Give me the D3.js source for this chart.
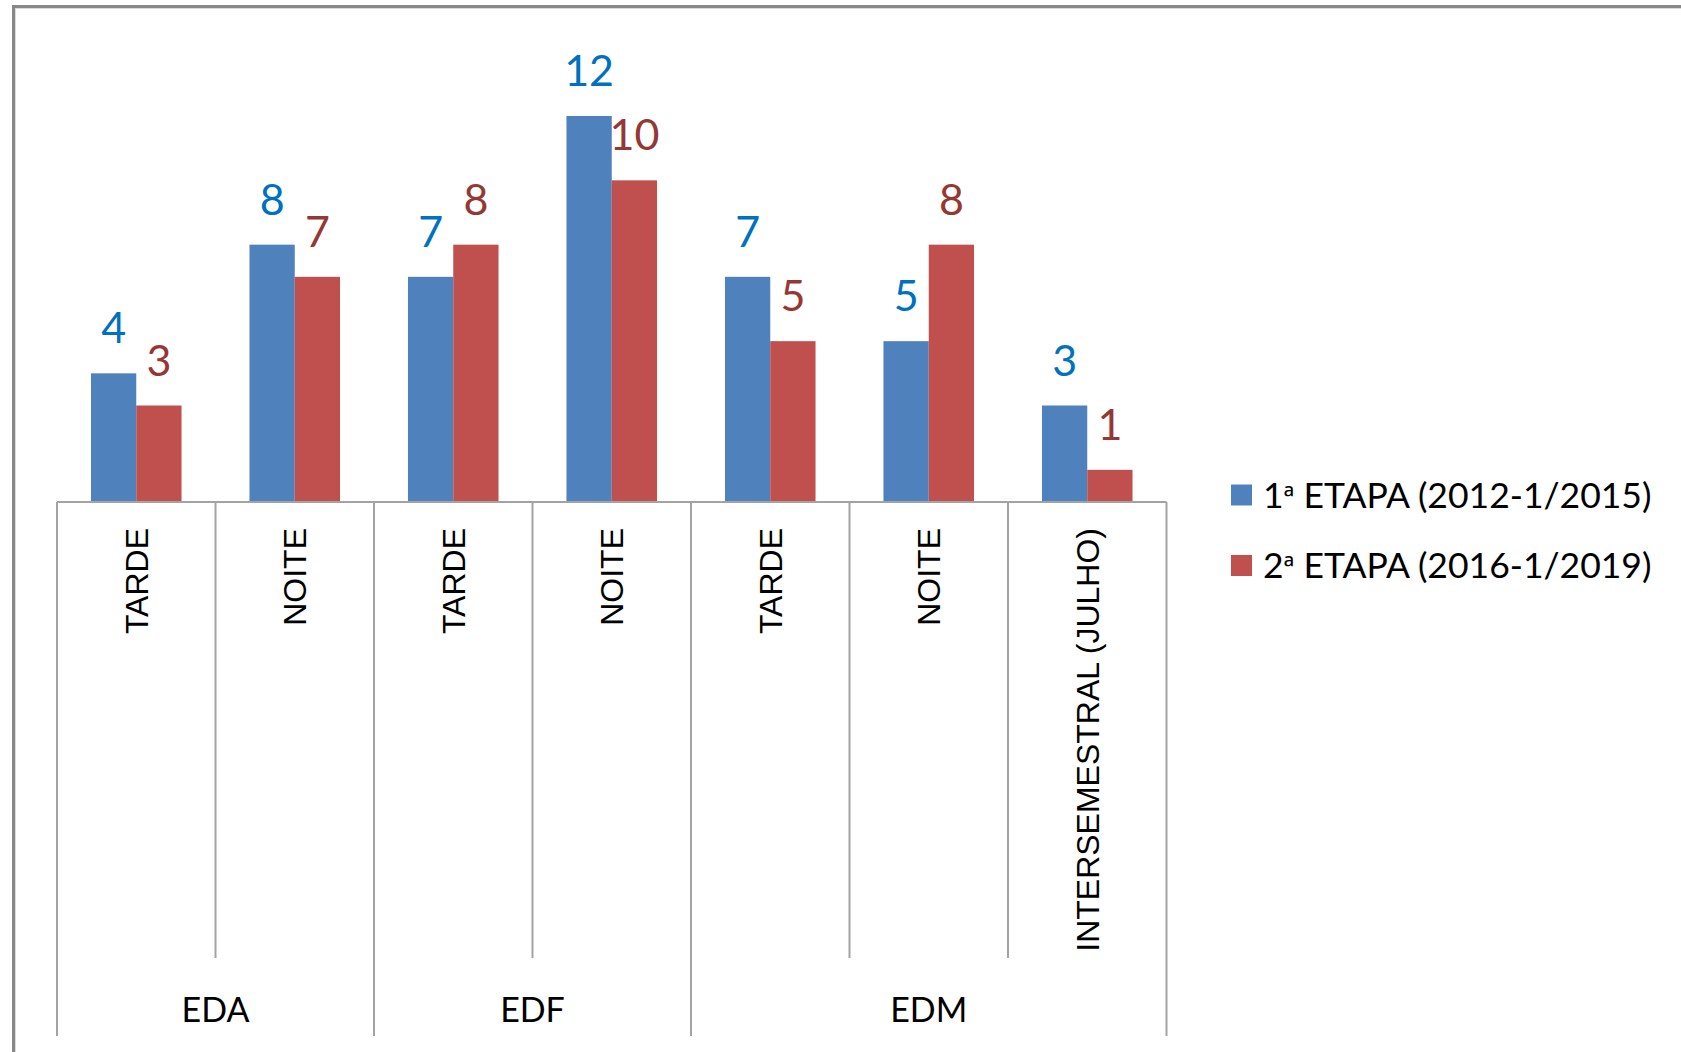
<!DOCTYPE html>
<html>
<head>
<meta charset="utf-8">
<script src="https://cdn.jsdelivr.net/npm/d3@7"></script>
<style>
  html, body { margin: 0; padding: 0; background: #ffffff; overflow: hidden; }
  svg { display: block; }
</style>
</head>
<body>
<svg id="chart" width="1681" height="1052"></svg>
<script>
// ---- data ----
const categories = ["TARDE", "NOITE", "TARDE", "NOITE", "TARDE", "NOITE", "INTERSEMESTRAL (JULHO)"];
const groupLabels = ["EDA", "EDF", "EDM"];
const groupSizes = [2, 2, 3];
const seriesNames = ["1ª ETAPA (2012-1/2015)", "2ª ETAPA (2016-1/2019)"];
const etapa1 = [4, 8, 7, 12, 7, 5, 3];
const etapa2 = [3, 7, 8, 10, 5, 8, 1];

// ---- styles ----
const barColors = ["#4F81BD", "#C0504D"];
const labelColors = ["#0070C0", "#953735"];
const lineColor = "#a3a3a3";
const numFont = "Lato, 'Open Sans', 'Noto Sans', sans-serif";
const catFont = "'Liberation Sans', Arial, sans-serif";

const svg = d3.select("#chart");

// outer chart border (right/bottom edges lie outside the picture)
svg.append("rect")
  .attr("x", 13.5).attr("y", 6.5).attr("width", 1800).attr("height", 1200)
  .attr("fill", "none").attr("stroke", "#878787").attr("stroke-width", 3);
svg.append("rect")
  .attr("x", 15.5).attr("y", 8.5).attr("width", 1800).attr("height", 1200)
  .attr("fill", "none").attr("stroke", "#dcdcdc").attr("stroke-width", 1);

// ---- scales ----
const plotLeft = 57, plotRight = 1166.5, baseY = 502, topY = 116;
const x0 = d3.scaleBand().domain(d3.range(categories.length)).range([plotLeft, plotRight]).paddingInner(0).paddingOuter(0);
const bw = x0.bandwidth();
const x1 = d3.scaleBand().domain([0, 1]).range([bw * 0.75 / 3.5, bw * 2.75 / 3.5]).padding(0);
const y = d3.scaleLinear().domain([0, 12]).range([baseY, topY]);

const seriesValues = [etapa1, etapa2];

// ---- bars ----
const gCat = svg.append("g").selectAll("g")
  .data(categories.map((c, i) => i))
  .join("g")
  .attr("transform", i => `translate(${x0(i)},0)`);

gCat.selectAll("rect")
  .data(i => seriesValues.map((vals, s) => ({ s, v: vals[i] })))
  .join("rect")
  .attr("x", d => x1(d.s))
  .attr("width", x1.bandwidth())
  .attr("y", d => y(d.v))
  .attr("height", d => y(0) - y(d.v))
  .attr("fill", d => barColors[d.s]);

// value labels
gCat.selectAll("text.val")
  .data(i => seriesValues.map((vals, s) => ({ s, v: vals[i] })))
  .join("text")
  .attr("class", "val")
  .attr("x", d => x1(d.s) + x1.bandwidth() / 2)
  .attr("y", d => y(d.v) - 30)
  .attr("text-anchor", "middle")
  .attr("font-family", numFont)
  .attr("font-size", 43)
  .attr("fill", d => labelColors[d.s])
  .text(d => d.v);

// ---- category axis (multi-level) ----
const axisG = svg.append("g");
axisG.append("line")
  .attr("x1", plotLeft).attr("x2", plotRight)
  .attr("y1", baseY).attr("y2", baseY)
  .attr("stroke", lineColor).attr("stroke-width", 2);

const groupStarts = [0];
groupSizes.forEach((n, k) => groupStarts.push(groupStarts[k] + n));
const boundaries = d3.range(categories.length + 1);
axisG.selectAll("line.div")
  .data(boundaries)
  .join("line")
  .attr("class", "div")
  .attr("x1", i => i < categories.length ? x0(i) : plotRight)
  .attr("x2", i => i < categories.length ? x0(i) : plotRight)
  .attr("y1", baseY)
  .attr("y2", i => groupStarts.includes(i) ? 1036 : 958)
  .attr("stroke", lineColor).attr("stroke-width", 2);

// category labels (rotated)
axisG.selectAll("text.cat")
  .data(categories)
  .join("text")
  .attr("class", "cat")
  .attr("transform", (c, i) => `translate(${x0(i) + bw / 2},${528}) rotate(-90)`)
  .attr("text-anchor", "end")
  .attr("dy", "0.36em")
  .attr("font-family", catFont)
  .attr("font-size", 32)
  .attr("fill", "#000")
  .text(c => c);

// group labels
axisG.selectAll("text.grp")
  .data(groupLabels)
  .join("text")
  .attr("class", "grp")
  .attr("x", (g, k) => {
    const a = x0(groupStarts[k]);
    const e = groupStarts[k + 1] < categories.length ? x0(groupStarts[k + 1]) : plotRight;
    return (a + e) / 2;
  })
  .attr("y", 1022)
  .attr("text-anchor", "middle")
  .attr("font-family", numFont)
  .attr("font-size", 34)
  .attr("fill", "#000")
  .text(g => g);

// ---- legend ----
const legend = svg.append("g").attr("transform", "translate(1231,0)");
const legItems = legend.selectAll("g")
  .data(seriesNames)
  .join("g")
  .attr("transform", (d, i) => `translate(0,${495 + i * 70.5})`);
legItems.append("rect")
  .attr("x", 0).attr("y", -10.5).attr("width", 21).attr("height", 21)
  .attr("fill", (d, i) => barColors[i]);
const legText = legItems.append("text")
  .attr("x", 32).attr("y", 0).attr("dy", "0.36em")
  .attr("font-family", numFont)
  .attr("font-size", 35.5)
  .attr("fill", "#000");
legText.append("tspan").text(d => d.slice(0, 1));
legText.append("tspan").attr("font-family", "'Noto Sans', 'DejaVu Sans', sans-serif").attr("font-size", 30).text(d => d.slice(1, 2));
legText.append("tspan").text(d => d.slice(2));
</script>
</body>
</html>
